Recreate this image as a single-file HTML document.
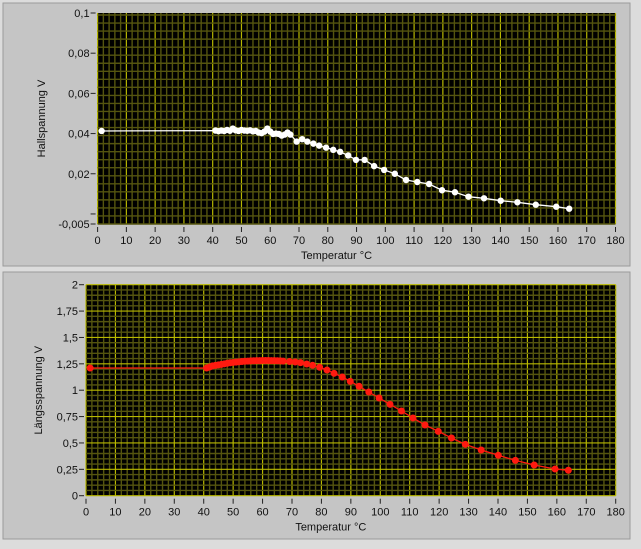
<!DOCTYPE html>
<html><head><meta charset="utf-8">
<style>
body{margin:0;background:#dcdcdc;width:641px;height:544px;overflow:hidden;font-family:"Liberation Sans",sans-serif}
svg text{font-family:"Liberation Sans",sans-serif;font-size:11px;fill:#111}
</style></head>
<body>
<svg id="root" width="641" height="544" viewBox="0 0 641 544" xmlns="http://www.w3.org/2000/svg">
<rect x="0" y="0" width="641" height="544" fill="#dcdcdc"/>
<rect x="3" y="3" width="627" height="263" fill="#c5c5c5" stroke="#9a9a9a"/>
<rect x="3" y="272" width="627" height="267" fill="#c5c5c5" stroke="#9a9a9a"/>
<g id="top"></g>
<g id="bot"></g>
</svg>
<script>
const temps=[1.4,41,42,43,44,45,46,47,48,49,50,51,52,53,54,55,56,57,58,59,60,61,62,63,64,65,66,67,69.2,71.1,72.9,75,77,79.4,81.9,84.3,87.1,89.8,92.8,96.1,99.6,103.3,107.2,111.1,115.2,119.7,124.2,128.9,134.3,140.1,145.9,152.3,159.4,163.9];
const hallValues=[0.0413,0.0415,0.0412,0.0415,0.0413,0.0418,0.0414,0.0425,0.0416,0.0413,0.0418,0.0415,0.0414,0.0416,0.0411,0.0413,0.0405,0.0402,0.041,0.0425,0.041,0.0398,0.040,0.0398,0.039,0.0395,0.0405,0.0395,0.036,0.0372,0.036,0.035,0.034,0.033,0.0319,0.0309,0.0291,0.0269,0.0269,0.0238,0.0219,0.020,0.0169,0.0159,0.0149,0.0118,0.0108,0.0086,0.0078,0.0066,0.0058,0.0046,0.0036,0.0026];
const laengsValues=[1.21,1.21,1.22,1.23,1.235,1.24,1.245,1.25,1.255,1.26,1.263,1.266,1.269,1.272,1.274,1.276,1.278,1.279,1.28,1.28,1.281,1.281,1.281,1.28,1.28,1.279,1.278,1.276,1.272,1.267,1.261,1.248,1.236,1.217,1.191,1.16,1.125,1.084,1.037,0.983,0.926,0.866,0.803,0.737,0.670,0.61,0.547,0.487,0.433,0.383,0.335,0.291,0.253,0.241];
const xTicks=[0,10,20,30,40,50,60,70,80,90,100,110,120,130,140,150,160,170,180];
const hallTicks=[-0.005,0,0.02,0.04,0.06,0.08,0.1];
const hallTickLabels=["-0,005","","0,02","0,04","0,06","0,08","0,1"];
const laengsTicks=[0,0.25,0.5,0.75,1,1.25,1.5,1.75,2];
const laengsTickLabels=["0","0,25","0,5","0,75","1","1,25","1,5","1,75","2"];
const NS="http://www.w3.org/2000/svg";
function mk(p,t,a){const e=document.createElementNS(NS,t);for(const k in a)e.setAttribute(k,a[k]);p.appendChild(e);return e;}
function chart(g,cfg){
  const xs=v=>cfg.L+(v-0)/(180)*(cfg.R-cfg.L);
  const ys=v=>cfg.B-(v-cfg.ymin)/(cfg.ymax-cfg.ymin)*(cfg.B-cfg.T);
  const bg=mk(g,'rect',{x:cfg.L,y:cfg.T,width:cfg.R-cfg.L,height:cfg.B-cfg.T,fill:'#000'});
  
  
  for(let v=0;v<=180;v+=2){const l=mk(g,'line',{x1:xs(v),x2:xs(v),y1:cfg.T,y2:cfg.B,stroke:v%10==0?'#b8b800':'#55550f','stroke-width':v%10==0?1.2:1.4});
    }
  for(let i=0;;i++){const v=cfg.ymin+i*cfg.minor; if(v>cfg.ymax+1e-9)break;
    const major=cfg.majors.some(m=>Math.abs(m-v)<1e-9);
    const l=mk(g,'line',{x1:cfg.L,x2:cfg.R,y1:ys(v),y2:ys(v),stroke:major?'#b8b800':'#55550f','stroke-width':major?1.2:1.4});
    }
  xTicks.forEach(v=>{mk(g,'line',{x1:xs(v),x2:xs(v),y1:cfg.B+3,y2:cfg.B+8,stroke:'#222'});
    const t=mk(g,'text',{x:xs(v),y:cfg.B+20,'text-anchor':'middle'});t.textContent=v;
    });
  cfg.ticks.forEach((v,i)=>{mk(g,'line',{x1:cfg.L-7,x2:cfg.L-2,y1:ys(v),y2:ys(v),stroke:'#222'});
    const t=mk(g,'text',{x:cfg.L-8,y:ys(v)+4,'text-anchor':'end'});t.textContent=cfg.labels[i];
    });
  const xt=mk(g,'text',{x:(cfg.L+cfg.R)/2-20,y:cfg.B+35,'text-anchor':'middle'});xt.textContent='Temperatur  °C';
  
  const yc=(cfg.T+cfg.B)/2;
  const yt=mk(g,'text',{x:cfg.ytx,y:yc,'text-anchor':'middle',transform:`rotate(-90 ${cfg.ytx} ${yc})`});yt.textContent=cfg.ytitle;
  
  const pts=temps.map((t,i)=>xs(t).toFixed(1)+','+ys(cfg.vals[i]).toFixed(1)).join(' ');
  const pl=mk(g,'polyline',{points:pts,fill:'none',stroke:cfg.color,'stroke-width':1.3});
  
  temps.forEach((t,i)=>{const c=mk(g,'circle',{cx:xs(t),cy:ys(cfg.vals[i]),r:cfg.r,fill:cfg.color});
    });
}
chart(document.getElementById('top'),{name:'hall',L:97.6,R:615.5,T:13,B:224,ymin:-0.005,ymax:0.1,minor:0.004,majors:[0,0.02,0.04,0.06,0.08,0.1],
  ticks:hallTicks,labels:hallTickLabels,vals:hallValues,color:'#ffffff',r:3.2,ytitle:'Hallspannung V',ytx:45});
chart(document.getElementById('bot'),{name:'laengs',L:86,R:615.7,T:284.7,B:495.7,ymin:0,ymax:2,minor:0.05,majors:laengsTicks,
  ticks:laengsTicks,labels:laengsTickLabels,vals:laengsValues,color:'#ff1a10',r:3.5,ytitle:'Längsspannung V',ytx:42});
</script>
</body></html>
